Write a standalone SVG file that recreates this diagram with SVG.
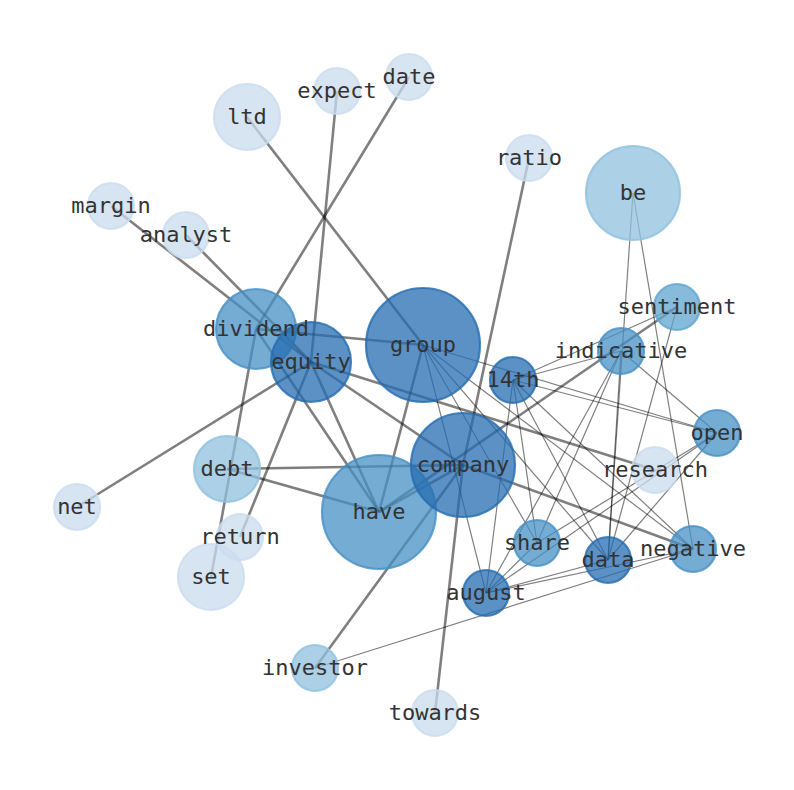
<svg xmlns="http://www.w3.org/2000/svg" width="794" height="790" viewBox="0 0 794 790">
<style>
.e{stroke:#000;stroke-opacity:0.5;fill:none}
.k{stroke-width:2.6}
.t{stroke-width:1.2}
.n circle{stroke-width:2.2;fill-opacity:0.75;stroke-opacity:0.8}
.l1 circle{fill:#cadcef;stroke:#cadcef}
.l2 circle{fill:#90c0de;stroke:#90c0de}
.l3 circle{fill:#5fa4d0;stroke:#5fa4d0}
.l4 circle{fill:#4690c4;stroke:#4690c4}
.l5 circle{fill:#246cb0;stroke:#246cb0}
text{font-family:"DejaVu Sans Mono","Liberation Mono",monospace;font-size:22px;fill:#333;text-anchor:middle}
</style>
<rect width="794" height="790" fill="#fff"/>
<g id="edges">
<line class="e k" x1="247" y1="117" x2="423" y2="345"/>
<line class="e k" x1="337" y1="91" x2="311" y2="362"/>
<line class="e k" x1="409" y1="77" x2="256" y2="329"/>
<line class="e k" x1="111" y1="206" x2="311" y2="362"/>
<line class="e k" x1="186" y1="235" x2="311" y2="362"/>
<line class="e k" x1="256" y1="329" x2="423" y2="345"/>
<line class="e k" x1="256" y1="329" x2="379" y2="512"/>
<line class="e k" x1="256" y1="329" x2="211" y2="577"/>
<line class="e k" x1="311" y1="362" x2="77" y2="507"/>
<line class="e k" x1="311" y1="362" x2="240" y2="537"/>
<line class="e k" x1="311" y1="362" x2="379" y2="512"/>
<line class="e k" x1="311" y1="362" x2="463" y2="465"/>
<line class="e k" x1="311" y1="362" x2="655" y2="470"/>
<line class="e k" x1="423" y1="345" x2="379" y2="512"/>
<line class="e k" x1="529" y1="158" x2="463" y2="465"/>
<line class="e k" x1="435" y1="713" x2="463" y2="465"/>
<line class="e k" x1="315" y1="668" x2="463" y2="465"/>
<line class="e k" x1="227" y1="469" x2="463" y2="465"/>
<line class="e k" x1="227" y1="469" x2="379" y2="512"/>
<line class="e k" x1="379" y1="512" x2="463" y2="465"/>
<line class="e k" x1="379" y1="512" x2="677" y2="307"/>
<line class="e k" x1="463" y1="465" x2="693" y2="549"/>
<line class="e t" x1="423" y1="345" x2="717" y2="433"/>
<line class="e t" x1="513" y1="380" x2="717" y2="433"/>
<line class="e t" x1="513" y1="380" x2="621" y2="351"/>
<line class="e t" x1="513" y1="380" x2="677" y2="307"/>
<line class="e t" x1="513" y1="380" x2="486" y2="593"/>
<line class="e t" x1="513" y1="380" x2="537" y2="543"/>
<line class="e t" x1="513" y1="380" x2="608" y2="560"/>
<line class="e t" x1="513" y1="380" x2="693" y2="549"/>
<line class="e t" x1="423" y1="345" x2="486" y2="593"/>
<line class="e t" x1="423" y1="345" x2="537" y2="543"/>
<line class="e t" x1="423" y1="345" x2="608" y2="560"/>
<line class="e t" x1="423" y1="345" x2="693" y2="549"/>
<line class="e t" x1="621" y1="351" x2="717" y2="433"/>
<line class="e t" x1="621" y1="351" x2="486" y2="593"/>
<line class="e t" x1="621" y1="351" x2="608" y2="560"/>
<line class="e t" x1="621" y1="351" x2="537" y2="543"/>
<line class="e t" x1="633" y1="193" x2="608" y2="560"/>
<line class="e t" x1="633" y1="193" x2="693" y2="549"/>
<line class="e t" x1="677" y1="307" x2="608" y2="560"/>
<line class="e t" x1="717" y1="433" x2="486" y2="593"/>
<line class="e t" x1="717" y1="433" x2="537" y2="543"/>
<line class="e t" x1="717" y1="433" x2="608" y2="560"/>
<line class="e t" x1="486" y1="593" x2="608" y2="560"/>
<line class="e t" x1="486" y1="593" x2="693" y2="549"/>
<line class="e t" x1="486" y1="593" x2="537" y2="543"/>
<line class="e t" x1="315" y1="668" x2="693" y2="549"/>
</g>
<g id="nodes">
<g id="ltd" class="n l1"><circle cx="247" cy="117" r="33"/></g>
<g id="expect" class="n l1"><circle cx="337" cy="91" r="23"/></g>
<g id="date" class="n l1"><circle cx="409" cy="77" r="23"/></g>
<g id="ratio" class="n l1"><circle cx="529" cy="158" r="23"/></g>
<g id="be" class="n l2"><circle cx="633" cy="193" r="47"/></g>
<g id="margin" class="n l1"><circle cx="111" cy="206" r="23"/></g>
<g id="analyst" class="n l1"><circle cx="186" cy="235" r="23"/></g>
<g id="dividend" class="n l4"><circle cx="256" cy="329" r="40"/></g>
<g id="equity" class="n l5"><circle cx="311" cy="362" r="40"/></g>
<g id="group" class="n l5"><circle cx="423" cy="345" r="57"/></g>
<g id="sentiment" class="n l3"><circle cx="677" cy="307" r="23"/></g>
<g id="indicative" class="n l4"><circle cx="621" cy="351" r="23"/></g>
<g id="14th" class="n l5"><circle cx="513" cy="380" r="23"/></g>
<g id="open" class="n l4"><circle cx="717" cy="433" r="23"/></g>
<g id="research" class="n l1"><circle cx="655" cy="470" r="23"/></g>
<g id="debt" class="n l2"><circle cx="227" cy="469" r="33"/></g>
<g id="have" class="n l4"><circle cx="379" cy="512" r="57"/></g>
<g id="company" class="n l5"><circle cx="463" cy="465" r="52"/></g>
<g id="net" class="n l1"><circle cx="77" cy="507" r="23"/></g>
<g id="return" class="n l1"><circle cx="240" cy="537" r="23"/></g>
<g id="set" class="n l1"><circle cx="211" cy="577" r="33"/></g>
<g id="share" class="n l4"><circle cx="537" cy="543" r="23"/></g>
<g id="data" class="n l5"><circle cx="608" cy="560" r="23"/></g>
<g id="negative" class="n l4"><circle cx="693" cy="549" r="23"/></g>
<g id="august" class="n l5"><circle cx="486" cy="593" r="23"/></g>
<g id="investor" class="n l2"><circle cx="315" cy="668" r="23"/></g>
<g id="towards" class="n l1"><circle cx="435" cy="713" r="23"/></g>
</g>
<g id="labels">
<text x="247" y="124">ltd</text>
<text x="337" y="98">expect</text>
<text x="409" y="84">date</text>
<text x="529" y="165">ratio</text>
<text x="633" y="200">be</text>
<text x="111" y="213">margin</text>
<text x="186" y="242">analyst</text>
<text x="256" y="336">dividend</text>
<text x="311" y="369">equity</text>
<text x="423" y="352">group</text>
<text x="677" y="314">sentiment</text>
<text x="621" y="358">indicative</text>
<text x="513" y="387">14th</text>
<text x="717" y="440">open</text>
<text x="655" y="477">research</text>
<text x="227" y="476">debt</text>
<text x="379" y="519">have</text>
<text x="463" y="472">company</text>
<text x="77" y="514">net</text>
<text x="240" y="544">return</text>
<text x="211" y="584">set</text>
<text x="537" y="550">share</text>
<text x="608" y="567">data</text>
<text x="693" y="556">negative</text>
<text x="486" y="600">august</text>
<text x="315" y="675">investor</text>
<text x="435" y="720">towards</text>
</g>
</svg>
